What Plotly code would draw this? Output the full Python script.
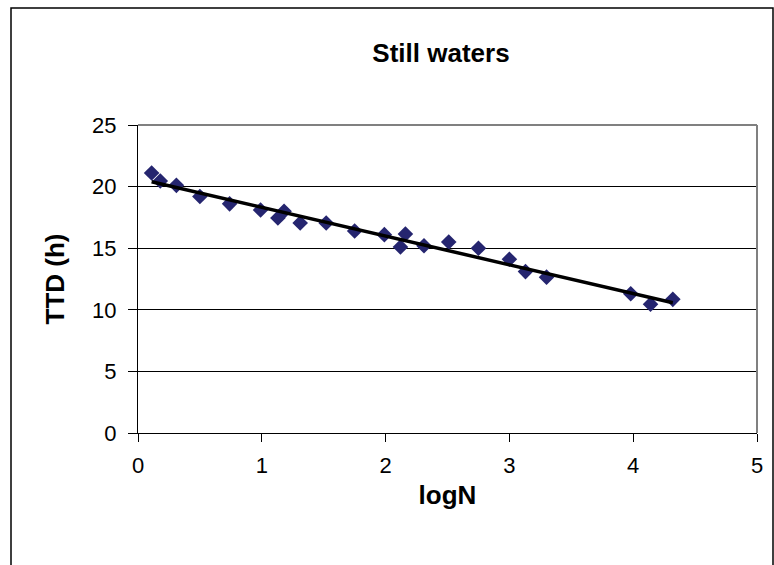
import numpy as np
import plotly.graph_objects as go

# Data
log_n = [0.11, 0.18, 0.31, 0.50, 0.74, 0.99, 1.13, 1.18, 1.31, 1.52, 1.75,
         1.99, 2.12, 2.16, 2.31, 2.51, 2.75, 3.00, 3.13, 3.30, 3.98, 4.14, 4.32]
ttd_h = [21.1, 20.45, 20.1, 19.2, 18.6, 18.1, 17.45, 18.0, 17.05, 17.05, 16.4,
         16.1, 15.1, 16.15, 15.2, 15.5, 15.0, 14.1, 13.1, 12.65, 11.3, 10.45, 10.85]

x_ticks = [0, 1, 2, 3, 4, 5]
y_ticks = [0, 5, 10, 15, 20, 25]

chart_title = "Still waters"
x_title = "logN"
y_title = "TTD (h)"

# Linear trendline (least squares)
slope, intercept = np.polyfit(log_n, ttd_h, 1)
trend_x = [min(log_n), max(log_n)]
trend_y = [slope * v + intercept for v in trend_x]

W, H = 774, 565
L, R, T, B = 138, 17, 125, 132
pw, ph = W - L - R, H - T - B

def px2paper_x(p):
    return (p - L) / pw

def px2paper_y(p):
    return (H - B - p) / ph

fig = go.Figure()
fig.add_trace(go.Scatter(
    x=log_n, y=ttd_h, mode="markers",
    marker=dict(symbol="diamond", size=12, color="#25256f",
                line=dict(width=0)),
    showlegend=False, hoverinfo="x+y"))
fig.add_trace(go.Scatter(
    x=trend_x, y=trend_y, mode="lines",
    line=dict(color="black", width=3.5),
    showlegend=False, hoverinfo="skip"))

font_family = "Liberation Sans, Arial, sans-serif"

fig.update_layout(
    width=W, height=H,
    margin=dict(l=L, r=R, t=T, b=B, pad=0),
    paper_bgcolor="white", plot_bgcolor="white",
    font=dict(family=font_family, color="black"),
    title=dict(text="<b>" + chart_title + "</b>", x=441 / W,
               xanchor="center", y=1 - 53 / H, yanchor="middle",
               font=dict(size=26, family=font_family, color="black")),
    xaxis=dict(range=[0, 5], tickvals=x_ticks, ticktext=[str(v) for v in x_ticks],
               showgrid=False, zeroline=False,
               showline=True, linecolor="black", linewidth=1,
               ticks="outside", ticklen=8, tickcolor="black", tickwidth=1,
               ticklabelstandoff=5,
               tickfont=dict(size=22, color="black"),
               title=dict(text="<b>" + x_title + "</b>", standoff=8,
                          font=dict(size=26, color="black"))),
    yaxis=dict(range=[0, 25], tickvals=y_ticks, ticktext=[str(v) for v in y_ticks],
               showgrid=True, gridcolor="black", gridwidth=1, zeroline=False,
               showline=True, linecolor="black", linewidth=1,
               ticks="outside", ticklen=9, tickcolor="black", tickwidth=1,
               ticklabelstandoff=7,
               tickfont=dict(size=22, color="black"),
               title=dict(text="<b>" + y_title + "</b>", standoff=20,
                          font=dict(size=26, color="black"))),
    shapes=[
        # plot area border top/right (gray)
        dict(type="line", xref="paper", yref="paper", x0=0, x1=1, y0=1, y1=1,
             line=dict(color="#808080", width=2), layer="above"),
        dict(type="line", xref="paper", yref="paper", x0=1, x1=1, y0=0, y1=1,
             line=dict(color="#808080", width=2), layer="above"),
        # outer chart frame
        dict(type="rect", xref="paper", yref="paper",
             x0=px2paper_x(11), x1=px2paper_x(773),
             y0=px2paper_y(600), y1=px2paper_y(8),
             line=dict(color="black", width=1.5), fillcolor="rgba(0,0,0,0)",
             layer="above"),
    ],
)

fig.write_html("out.html")
